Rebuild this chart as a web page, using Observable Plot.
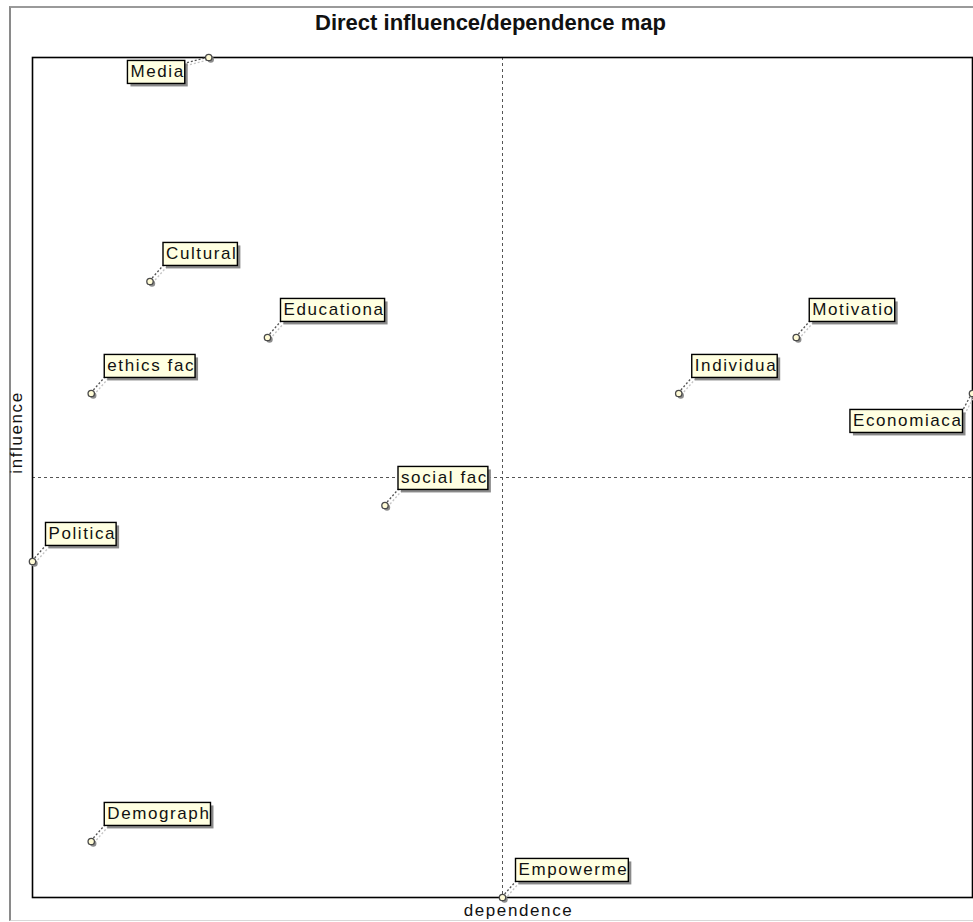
<!DOCTYPE html>
<html><head><meta charset="utf-8">
<script src="https://cdn.jsdelivr.net/npm/d3@7"></script>
<script src="https://cdn.jsdelivr.net/npm/@observablehq/plot@0.6"></script>
<style>
html,body{margin:0;padding:0;background:#fff;}
#wrap{position:relative;width:973px;height:922px;overflow:hidden;}
#border{position:absolute;left:9px;top:6px;right:-10px;bottom:1px;border-left:2px solid #8a8a8a;border-top:2px solid #9a9a9a;border-bottom:1px solid #d8d8d8;}
#chart{position:absolute;left:0;top:0;}
</style></head><body>
<div id="wrap"><div id="border"></div><div id="chart"></div></div>
<script>
const labels = ["Media","Cultural","Educationa","ethics fac","social fac","Politica","Demograph","Empowerme","Individua","Motivatio","Economiaca"];
const dependence = [7, 6, 8, 5, 10, 4, 5, 12, 15, 17, 20];
const influence = [18, 14, 13, 12, 10, 9, 4, 3, 12, 13, 12];
const title = "Direct influence/dependence map";
const xLabel = "dependence";
const yLabel = "influence";

const data = labels.map((label, i) => ({label, dependence: dependence[i], influence: influence[i]}));
const [xMin, xMax] = d3.extent(dependence);
const [yMin, yMax] = d3.extent(influence);
const placement = d => d.influence === yMax ? "top" : d.dependence === xMax ? "right" : "ne";
const groups = {
  ne: data.filter(d => placement(d) === "ne"),
  top: data.filter(d => placement(d) === "top"),
  right: data.filter(d => placement(d) === "right")
};
const font = "'Liberation Sans', Arial, sans-serif";
const labelOpts = {x: "dependence", y: "influence", text: "label", fontSize: 17, fill: "#111", lineAnchor: "middle", ariaDescription: "labels"};

const chart = Plot.plot({
  width: 973, height: 922,
  marginLeft: 32, marginRight: 1, marginTop: 57, marginBottom: 25,
  x: {domain: [xMin, xMax], axis: null},
  y: {domain: [yMin, yMax], axis: null},
  style: {fontFamily: font, background: "transparent", overflow: "visible"},
  marks: [
    Plot.ruleX([(xMin + xMax) / 2], {stroke: "#555", strokeDasharray: "3,3", strokeWidth: 1}),
    Plot.ruleY([(yMin + yMax) / 2], {stroke: "#555", strokeDasharray: "3,3", strokeWidth: 1}),
    Plot.frame({stroke: "#000", strokeWidth: 1.6}),
    Plot.dot(data, {x: "dependence", y: "influence", r: 3.2, fill: "#8c8c8c", stroke: "none", dx: 2, dy: 2}),
    Plot.dot(data, {x: "dependence", y: "influence", r: 3.2, fill: "#fffbd6", stroke: "#4a4a4a", strokeWidth: 1.3}),
    Plot.text(groups.ne, {...labelOpts, textAnchor: "start", dx: 16, dy: -28}),
    Plot.text(groups.top, {...labelOpts, textAnchor: "end", dx: -24, dy: 14}),
    Plot.text(groups.right, {...labelOpts, textAnchor: "end", dx: -10, dy: 27}),
    Plot.text([title], {text: d => d, frameAnchor: "top", textAnchor: "middle", lineAnchor: "middle", dy: -35, dx: -12, fontWeight: "bold", fontSize: 22, fill: "#111", ariaDescription: "title"}),
    Plot.text([xLabel], {text: d => d, frameAnchor: "bottom", textAnchor: "middle", lineAnchor: "middle", dy: 13, dx: 16, fontSize: 17, fill: "#111", ariaDescription: "axislabel"}),
    Plot.text([yLabel], {text: d => d, frameAnchor: "left", textAnchor: "middle", lineAnchor: "middle", rotate: -90, dx: -16, dy: -45, fontSize: 17, fill: "#111", ariaDescription: "axislabel"})
  ]
});
document.getElementById("chart").appendChild(chart);

const svg = d3.select(chart);
svg.selectAll('g[aria-description="labels"] text, g[aria-description="axislabel"] text').style("letter-spacing", "1.6px");

const xs = chart.scale("x"), ys = chart.scale("y");
const svgRect = chart.getBoundingClientRect();
const firstDot = chart.querySelector('g[aria-label="dot"]');
const firstLabels = chart.querySelector('g[aria-description="labels"]');
const leaderG = document.createElementNS("http://www.w3.org/2000/svg", "g");
const boxG = document.createElementNS("http://www.w3.org/2000/svg", "g");
chart.insertBefore(leaderG, firstDot);
chart.insertBefore(boxG, firstLabels);
const lg = d3.select(leaderG), bg = d3.select(boxG);

const labelGroups = chart.querySelectorAll('g[aria-description="labels"]');
[["ne", groups.ne], ["top", groups.top], ["right", groups.right]].forEach(([kind, arr], gi) => {
  const texts = labelGroups[gi].querySelectorAll("text");
  texts.forEach((t, i) => {
    const d = arr[i];
    const px = xs.apply(d.dependence), py = ys.apply(d.influence);
    const r = t.getBoundingClientRect();
    const left = r.left - svgRect.left - 3;
    const right = r.right - svgRect.left;
    const cy = (r.top + r.bottom) / 2 - svgRect.top + 0.5;
    const top = cy - 11.5, bottom = cy + 11.5;
    bg.append("rect").attr("x", left + 3).attr("y", top + 3).attr("width", right - left).attr("height", bottom - top).attr("fill", "#8a8a8a");
    bg.append("rect").attr("x", left).attr("y", top).attr("width", right - left).attr("height", bottom - top)
      .attr("fill", "#ffffe1").attr("stroke", "#000").attr("stroke-width", 1.4);
    const [ex, ey] = kind === "ne" ? [left + 1, bottom - 1] : [right - 1, top + 3];
    lg.append("line").attr("x1", px + 3).attr("y1", py + 2).attr("x2", ex + 3).attr("y2", ey + 2)
      .attr("stroke", "#c4c4c4").attr("stroke-width", 1.3).attr("stroke-dasharray", "2,2");
    lg.append("line").attr("x1", px).attr("y1", py).attr("x2", ex).attr("y2", ey)
      .attr("stroke", "#555").attr("stroke-width", 1.3).attr("stroke-dasharray", "2,2");
  });
});
</script>
</body></html>
